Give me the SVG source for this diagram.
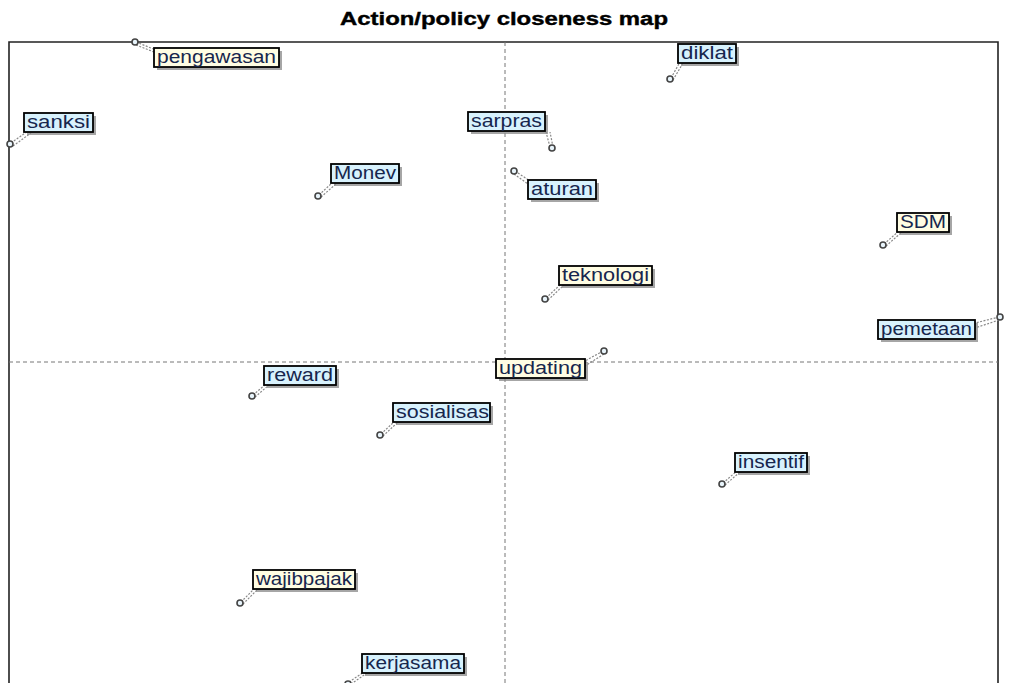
<svg xmlns="http://www.w3.org/2000/svg" width="1009" height="683" viewBox="0 0 1009 683">
<style>
.title{font-family:"Liberation Sans",Arial,sans-serif;font-weight:bold;font-size:18px;fill:#000;stroke:#000;stroke-width:0.4}
.lbl{font-family:"Liberation Sans",Arial,sans-serif;font-size:17.5px;fill:#16264d}
.box{stroke:#000;stroke-width:1.8}
.y{fill:#fffde3}
.b{fill:#d8f2fd}
.sh{fill:#888;opacity:0.75}
.lead{stroke:#888;stroke-width:1.2;stroke-dasharray:2,1.5;fill:none}
.pt{fill:#e8f4fb;stroke:#444;stroke-width:1.6}
.ax{stroke:#777;stroke-width:1;stroke-dasharray:4,3}
</style>
<rect width="1009" height="683" fill="#fff"/>
<text class="title" x="504" y="25" text-anchor="middle" textLength="328" lengthAdjust="spacingAndGlyphs">Action/policy closeness map</text>
<g id="frame">
<path d="M9,683 V42 H998 V683" fill="none" stroke="#222" stroke-width="1.6"/>
<line class="ax" x1="505" y1="42" x2="505" y2="683"/>
<line class="ax" x1="9" y1="362" x2="998" y2="362"/>
</g>
<g id="connectors">
<path class="lead" d="M136,42 L156,50 M136,45 L154,52"/>
<path class="lead" d="M11,143 L28,131 M13,146 L31,133"/>
<path class="lead" d="M319,195 L333,182 M321,197 L336,184"/>
<path class="lead" d="M550,147 L546,132 M553,147 L550,132"/>
<path class="lead" d="M515,171 L530,181 M514,174 L528,184"/>
<path class="lead" d="M671,78 L680,62 M673,80 L683,63"/>
<path class="lead" d="M884,244 L899,231 M886,246 L902,232"/>
<path class="lead" d="M546,298 L561,284 M548,300 L564,285"/>
<path class="lead" d="M999,317 L975,323 M999,320 L975,328"/>
<path class="lead" d="M603,351 L585,361 M604,354 L585,366"/>
<path class="lead" d="M253,395 L266,384 M255,397 L269,385"/>
<path class="lead" d="M381,434 L395,421 M383,436 L398,422"/>
<path class="lead" d="M723,483 L737,471 M725,485 L740,472"/>
<path class="lead" d="M241,602 L255,588 M243,604 L258,589"/>
<path class="lead" d="M349,682 L364,672 M351,684 L367,673"/>
</g>
<g id="n-pengawasan"><circle class="pt" cx="135" cy="42" r="3"/><rect class="sh" x="157" y="51" width="125" height="19"/><rect class="box y" x="154" y="48" width="125" height="19"/><text class="lbl" x="157" y="63" textLength="119" lengthAdjust="spacingAndGlyphs">pengawasan</text></g>
<g id="n-sanksi"><circle class="pt" cx="10" cy="144" r="3"/><rect class="sh" x="27" y="116" width="69" height="19"/><rect class="box b" x="24" y="113" width="69" height="19"/><text class="lbl" x="27" y="128" textLength="63" lengthAdjust="spacingAndGlyphs">sanksi</text></g>
<g id="n-Monev"><circle class="pt" cx="318" cy="196" r="3"/><rect class="sh" x="334" y="167" width="68" height="19"/><rect class="box b" x="331" y="164" width="68" height="19"/><text class="lbl" x="334" y="179" textLength="62" lengthAdjust="spacingAndGlyphs">Monev</text></g>
<g id="n-sarpras"><circle class="pt" cx="552" cy="148" r="3"/><rect class="sh" x="471" y="115" width="77" height="19"/><rect class="box b" x="468" y="112" width="77" height="19"/><text class="lbl" x="471" y="127" textLength="71" lengthAdjust="spacingAndGlyphs">sarpras</text></g>
<g id="n-aturan"><circle class="pt" cx="514" cy="171" r="3"/><rect class="sh" x="531" y="183" width="68" height="19"/><rect class="box b" x="528" y="180" width="68" height="19"/><text class="lbl" x="531" y="195" textLength="62" lengthAdjust="spacingAndGlyphs">aturan</text></g>
<g id="n-diklat"><circle class="pt" cx="670" cy="79" r="3"/><rect class="sh" x="681" y="47" width="58" height="19"/><rect class="box b" x="678" y="44" width="58" height="19"/><text class="lbl" x="681" y="59" textLength="52" lengthAdjust="spacingAndGlyphs">diklat</text></g>
<g id="n-SDM"><circle class="pt" cx="883" cy="245" r="3"/><rect class="sh" x="900" y="216" width="52" height="19"/><rect class="box y" x="897" y="213" width="52" height="19"/><text class="lbl" x="900" y="228" textLength="46" lengthAdjust="spacingAndGlyphs">SDM</text></g>
<g id="n-teknologi"><circle class="pt" cx="545" cy="299" r="3"/><rect class="sh" x="562" y="269" width="93" height="19"/><rect class="box y" x="559" y="266" width="93" height="19"/><text class="lbl" x="562" y="281" textLength="87" lengthAdjust="spacingAndGlyphs">teknologi</text></g>
<g id="n-pemetaan"><circle class="pt" cx="1000" cy="317" r="3"/><rect class="sh" x="881" y="323" width="97" height="19"/><rect class="box b" x="878" y="320" width="97" height="19"/><text class="lbl" x="881" y="335" textLength="91" lengthAdjust="spacingAndGlyphs">pemetaan</text></g>
<g id="n-updating"><circle class="pt" cx="604" cy="351" r="3"/><rect class="sh" x="499" y="362" width="89" height="19"/><rect class="box y" x="496" y="359" width="89" height="19"/><text class="lbl" x="499" y="374" textLength="83" lengthAdjust="spacingAndGlyphs">updating</text></g>
<g id="n-reward"><circle class="pt" cx="252" cy="396" r="3"/><rect class="sh" x="267" y="369" width="72" height="19"/><rect class="box b" x="264" y="366" width="72" height="19"/><text class="lbl" x="267" y="381" textLength="66" lengthAdjust="spacingAndGlyphs">reward</text></g>
<g id="n-sosialisas"><circle class="pt" cx="380" cy="435" r="3"/><rect class="sh" x="396" y="406" width="97" height="19"/><rect class="box b" x="393" y="403" width="97" height="19"/><text class="lbl" x="396" y="418" textLength="93" lengthAdjust="spacingAndGlyphs">sosialisas</text></g>
<g id="n-insentif"><circle class="pt" cx="722" cy="484" r="3"/><rect class="sh" x="738" y="456" width="72" height="19"/><rect class="box b" x="735" y="453" width="72" height="19"/><text class="lbl" x="738" y="468" textLength="66" lengthAdjust="spacingAndGlyphs">insentif</text></g>
<g id="n-wajibpajak"><circle class="pt" cx="240" cy="603" r="3"/><rect class="sh" x="256" y="573" width="102" height="19"/><rect class="box y" x="253" y="570" width="102" height="19"/><text class="lbl" x="256" y="585" textLength="96" lengthAdjust="spacingAndGlyphs">wajibpajak</text></g>
<g id="n-kerjasama"><circle class="pt" cx="348" cy="684" r="3"/><rect class="sh" x="365" y="657" width="102" height="19"/><rect class="box b" x="362" y="654" width="102" height="19"/><text class="lbl" x="365" y="669" textLength="96" lengthAdjust="spacingAndGlyphs">kerjasama</text></g>
</svg>
